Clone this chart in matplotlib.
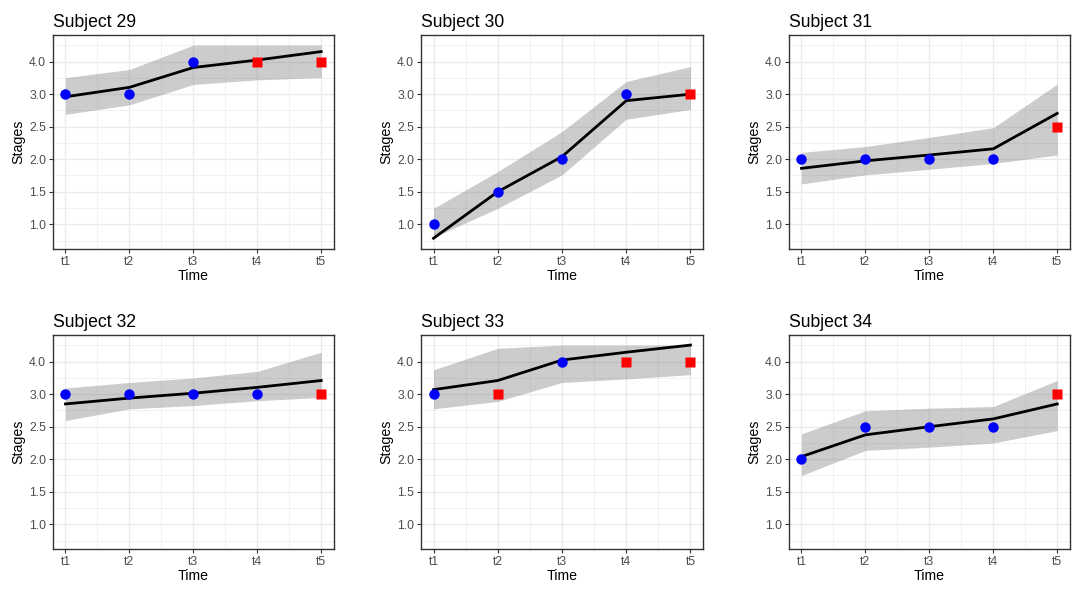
import numpy as np
import matplotlib
matplotlib.use("Agg")
import matplotlib.pyplot as plt

# y positions 1..6 carry these labels on the original chart
stage_labels = ["1.0", "1.5", "2.0", "2.5", "3.0", "4.0"]
time_labels = ["t1", "t2", "t3", "t4", "t5"]

subjects = ["Subject 29", "Subject 30", "Subject 31",
            "Subject 32", "Subject 33", "Subject 34"]

# observed stages (positions on the stage scale)
observed = [
    [5, 5, 6, 6, 6],
    [1, 2, 3, 5, 5],
    [3, 3, 3, 3, 4],
    [5, 5, 5, 5, 5],
    [5, 5, 6, 6, 6],
    [3, 4, 4, 4, 5],
]
# True = predicted (red square), False = observed (blue dot)
predicted = [
    [False, False, False, True, True],
    [False, False, False, False, True],
    [False, False, False, False, True],
    [False, False, False, False, True],
    [False, True, False, True, True],
    [False, False, False, False, True],
]
fit = [
    [4.92, 5.21, 5.82, 6.05, 6.31],
    [0.57, 2.00, 3.08, 4.80, 5.00],
    [2.72, 2.95, 3.13, 3.32, 4.41],
    [4.70, 4.88, 5.03, 5.21, 5.42],
    [5.14, 5.42, 6.05, 6.29, 6.51],
    [3.08, 3.75, 4.00, 4.24, 4.70],
]
upper = [
    [5.51, 5.76, 6.51, 6.51, 6.51],
    [1.49, 2.62, 3.85, 5.39, 5.85],
    [3.21, 3.39, 3.67, 3.97, 5.31],
    [5.19, 5.36, 5.50, 5.70, 6.29],
    [5.75, 6.41, 6.51, 6.51, 6.51],
    [3.78, 4.49, 4.57, 4.62, 5.42],
]
lower = [
    [4.38, 4.67, 5.30, 5.44, 5.51],
    [0.60, 1.49, 2.52, 4.23, 4.53],
    [2.24, 2.52, 2.69, 2.87, 3.13],
    [4.19, 4.55, 4.65, 4.80, 4.90],
    [4.55, 4.78, 5.36, 5.47, 5.60],
    [2.50, 3.27, 3.37, 3.50, 3.88],
]

plt.rcParams["font.family"] = ["Liberation Sans", "DejaVu Sans"]

W, H = 1073, 591
fig = plt.figure(figsize=(W / 100, H / 100), dpi=100)

# panel boxes in pixels: left, top, right, bottom
cols = [(52.7, 334.0), (420.7, 703.3), (788.7, 1070.0)]
rows = [(35.0, 249.3), (335.0, 549.3)]

x = np.arange(1, 6)
for i, name in enumerate(subjects):
    (x0, x1), (y0, y1) = cols[i % 3], rows[i // 3]
    ax = fig.add_axes([x0 / W, 1 - y1 / H, (x1 - x0) / W, (y1 - y0) / H])

    ax.fill_between(x, lower[i], upper[i], color="0.5", alpha=0.4,
                    lw=0, zorder=2)
    ax.plot(x, fit[i], color="black", lw=2.0, zorder=3)
    obs = np.array(observed[i])
    pred = np.array(predicted[i])
    ax.plot(x[~pred], obs[~pred], "o", color="#0000FF", ms=7.5,
            mec="none", zorder=4)
    ax.plot(x[pred], obs[pred], "s", color="#FF0000", ms=7.5,
            mec="none", zorder=4)

    ax.set_xlim(0.8, 5.2)
    ax.set_ylim(0.23, 6.82)
    ax.set_xticks(x)
    ax.set_xticklabels(time_labels)
    ax.set_yticks(np.arange(1, 7))
    ax.set_yticklabels(stage_labels)
    ax.set_xticks(np.arange(1.5, 5, 1), minor=True)
    ax.set_yticks(np.arange(0.5, 7, 1), minor=True)
    ax.grid(True, which="major", color="#EBEBEB", lw=1.0, zorder=0)
    ax.grid(True, which="minor", color="#EBEBEB", lw=0.5, zorder=0)
    ax.set_axisbelow(True)
    ax.tick_params(which="major", length=2.7, width=0.8, color="#333333",
                   labelsize=8.8, labelcolor="#4D4D4D", pad=2)
    ax.tick_params(which="minor", length=0)
    for sp in ax.spines.values():
        sp.set_color("#333333")
        sp.set_linewidth(1.0)

    ax.set_xlabel("Time", fontsize=10.2, labelpad=1)
    ax.set_ylabel("Stages", fontsize=10.2, labelpad=3)
    ax.set_title(name, fontsize=12.7, loc="left", pad=6)

fig.savefig("out.png", dpi=100)
